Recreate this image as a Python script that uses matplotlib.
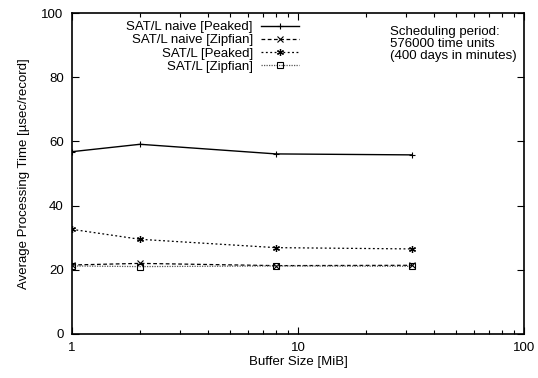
import matplotlib
matplotlib.use("Agg")
import matplotlib.pyplot as plt
from matplotlib.ticker import FixedLocator, NullFormatter

plt.rcParams['font.family'] = ['Liberation Sans', 'DejaVu Sans']
plt.rcParams['font.size'] = 9.5

# buffer sizes (MiB) and average processing time (usec/record)
buffer_mib = [1, 2, 8, 32]
naive_peaked = [56.8, 59.1, 56.1, 55.8]
naive_zipfian = [21.5, 22.0, 21.3, 21.4]
satl_peaked = [32.6, 29.5, 26.9, 26.5]
satl_zipfian = [21.2, 21.0, 21.2, 21.1]

fig = plt.figure(figsize=(5.38, 3.78), dpi=100)
ax = fig.add_axes([72/538, 1 - 334/378, (524-72)/538, (334-13)/378])

ax.plot(buffer_mib, naive_peaked, color='black', lw=1.0, ls='-', marker='+',
        ms=5, mew=0.8, label='SAT/L naive [Peaked]')
ax.plot(buffer_mib, naive_zipfian, color='black', lw=0.9, ls=(0, (3, 2)), marker='x',
        ms=4, mew=0.8, label='SAT/L naive [Zipfian]')
ax.plot(buffer_mib, satl_peaked, color='black', lw=0.9, ls=(0, (1.5, 2)), marker=(6, 2, 0),
        ms=5, mew=0.9, label='SAT/L [Peaked]')
ax.plot(buffer_mib, satl_zipfian, color='#555555', lw=0.9, ls=(0, (1, 1)), marker='s',
        ms=4, mew=0.8, mfc='none', mec='black', label='SAT/L [Zipfian]')

ax.set_xscale('log')
ax.set_xlim(1, 100)
ax.set_ylim(0, 100)
ax.set_xticks([1, 10, 100])
ax.set_xticklabels(['1', '10', '100'])
ax.xaxis.set_minor_locator(FixedLocator([i * 10**k for k in range(2) for i in range(2, 10)]))
ax.xaxis.set_minor_formatter(NullFormatter())
ax.set_yticks([0, 20, 40, 60, 80, 100])

ax.tick_params(which='both', direction='in', top=True, right=True, width=0.8)
ax.tick_params(which='major', length=5, pad=6)
ax.tick_params(which='minor', length=3)
for s in ax.spines.values():
    s.set_linewidth(1.2)

ax.set_xlabel('Buffer Size [MiB]', labelpad=1)
ax.set_ylabel('Average Processing Time [\u00b5sec/record]', labelpad=8)

leg = ax.legend(loc='upper right', bbox_to_anchor=(0.52, 1.0), frameon=False,
                markerfirst=False, handlelength=2.9, numpoints=1,
                labelspacing=0.08, handletextpad=0.6, borderaxespad=0.2)

ax.text(0.704, 0.96, 'Scheduling period:\n576000 time units\n(400 days in minutes)',
        transform=ax.transAxes, ha='left', va='top', linespacing=1.0)

fig.savefig('out.png', dpi=100)
